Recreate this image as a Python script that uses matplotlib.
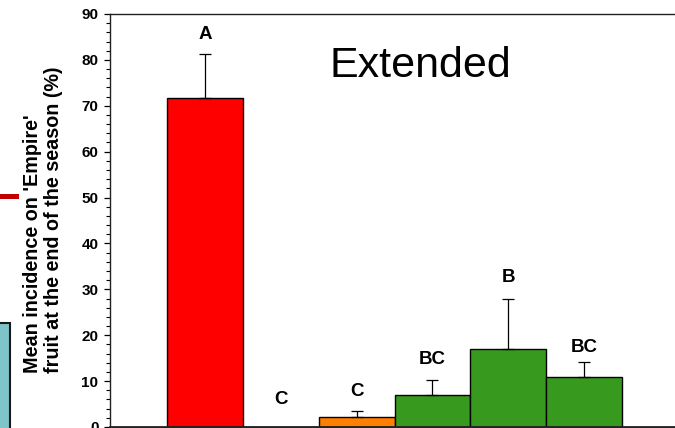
import matplotlib
matplotlib.use("Agg")
import matplotlib.pyplot as plt
from matplotlib.patches import Rectangle
from matplotlib.ticker import MultipleLocator

plt.rcParams['font.family'] = ['Liberation Sans', 'DejaVu Sans']

# Treatment results
treatments = ["T1", "T2", "T3", "T4", "T5", "T6"]
means = [71.6, 0.0, 2.1, 7.0, 17.1, 11.0]
upper_err = [9.7, 0.0, 1.4, 3.2, 10.8, 3.2]
letters = ["A", "C", "C", "BC", "B", "BC"]
bar_colors = ["#FF0000", "#FF8000", "#FF8000", "#379A1F", "#379A1F", "#379A1F"]

# Vertical gap (pixels) between the top of each error bar and its letter
letter_gap_px = [19, 27, 19, 21, 21, 14]

W, H = 675, 428
fig = plt.figure(figsize=(W / 100, H / 100), dpi=100)

ax_left, ax_top, ax_bottom = 110, 14, 427
ax = fig.add_axes([ax_left / W, (H - ax_bottom) / H, (W - ax_left) / W,
                   (ax_bottom - ax_top) / H])

x = list(range(len(treatments)))
ax.bar(x, means, width=1.0, color=bar_colors, edgecolor="black",
       linewidth=1.0, zorder=2)

for xi, m, e in zip(x, means, upper_err):
    if e > 0:
        ax.errorbar(xi, m, yerr=[[0], [e]], fmt="none", ecolor="black",
                    elinewidth=0.9, capsize=4.5, capthick=0.9, zorder=3)

for xi, m, e, lab, gap in zip(x, means, upper_err, letters, letter_gap_px):
    ax.annotate(lab, xy=(xi, m + e), xytext=(0, gap * 0.72),
                textcoords="offset points", ha="center", va="center",
                fontsize=13.5, fontweight="bold", color="black")

ax.set_ylim(0, 90)
ax.set_xlim(-1.253, 6.2)
ax.yaxis.set_major_locator(MultipleLocator(10))
ax.yaxis.set_minor_locator(MultipleLocator(2))
ax.tick_params(axis="y", which="major", direction="out", length=4.3,
               width=0.9, labelsize=11, pad=4)
ax.tick_params(axis="y", which="minor", direction="out", length=2.8,
               width=0.8)
for t in ax.get_yticklabels():
    t.set_fontweight("bold")
ax.set_xticks([])
ax.spines["right"].set_visible(False)
for s in ("left", "top"):
    ax.spines[s].set_linewidth(1.0)
    ax.spines[s].set_color("#222222")
ax.spines["bottom"].set_linewidth(2.0)
ax.spines["bottom"].set_color("#222222")

ax.text(420 / W, 1 - 77 / H, "Extended", transform=fig.transFigure,
        ha="center", va="baseline", fontsize=31, color="black")

fig.text(43 / W, 1 - 219.5 / H,
         "Mean incidence on 'Empire'\nfruit at the end of the season (%)",
         rotation=90, ha="center", va="center", multialignment="left",
         fontsize=14.2, fontweight="bold", linespacing=1.1)

# Slide fragments at the left margin
fig.patches.append(Rectangle((0, 1 - 199 / H), 19 / W, 5 / H,
                             transform=fig.transFigure, facecolor="#C00000",
                             edgecolor="none"))
fig.patches.append(Rectangle((-10 / W, 0 - 5 / H), 20 / W, (428 - 323 + 5) / H,
                             transform=fig.transFigure, facecolor="#7EC4C8",
                             edgecolor="#1A1A1A", linewidth=1.5))

fig.savefig("out.png", dpi=100)
